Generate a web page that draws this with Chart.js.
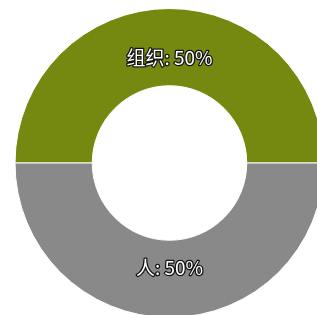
<!DOCTYPE html>
<html>
<head>
<meta charset="utf-8">
<script src="https://cdn.jsdelivr.net/npm/chart.js@4"></script>
<style>
  html, body { margin: 0; padding: 0; background: #fff; overflow: hidden; }
  #wrap { width: 317px; height: 315px; overflow: hidden; position: relative; }
  canvas { position: absolute; left: 0; top: 0; }
</style>
</head>
<body>
<div id="wrap"><canvas id="pie" width="339" height="326"></canvas></div>
<script>
const categories = ['组织', '人'];
const values = [50, 50];
const colors = ['#75880f', '#898989'];

// draws "name: pct%" inside each slice with a dark outline
const sliceLabels = {
    id: 'sliceLabels',
    afterDatasetsDraw(chart) {
        const ctx = chart.ctx;
        const meta = chart.getDatasetMeta(0);
        const total = values.reduce((a, b) => a + b, 0);
        ctx.save();
        ctx.font = '19px "Noto Sans CJK SC", sans-serif';
        ctx.textAlign = 'center';
        ctx.textBaseline = 'middle';
        ctx.lineJoin = 'round';
        meta.data.forEach((arc, i) => {
            const p = arc.getProps(['x', 'y', 'startAngle', 'endAngle', 'outerRadius']);
            const mid = (p.startAngle + p.endAngle) / 2;
            const r = p.outerRadius * 0.68;
            const x = p.x + Math.cos(mid) * r;
            const y = p.y + Math.sin(mid) * r;
            const text = categories[i] + ': ' + Math.round(values[i] / total * 100) + '%';
            ctx.lineWidth = 2.5;
            ctx.strokeStyle = '#111';
            ctx.strokeText(text, x, y);
            ctx.fillStyle = '#fff';
            ctx.fillText(text, x, y);
        });
        ctx.restore();
    }
};

new Chart(document.getElementById('pie').getContext('2d'), {
    type: 'doughnut',
    data: {
        labels: categories,
        datasets: [{
            data: values,
            backgroundColor: colors,
            borderColor: '#fff',
            borderWidth: 1
        }]
    },
    options: {
        responsive: false,
        animation: false,
        cutout: '50%',
        rotation: -90,
        layout: { padding: { top: 8, bottom: 8, left: 0, right: 0 } },
        plugins: { legend: { display: false }, tooltip: { enabled: false } }
    },
    plugins: [sliceLabels]
});
</script>
</body>
</html>
